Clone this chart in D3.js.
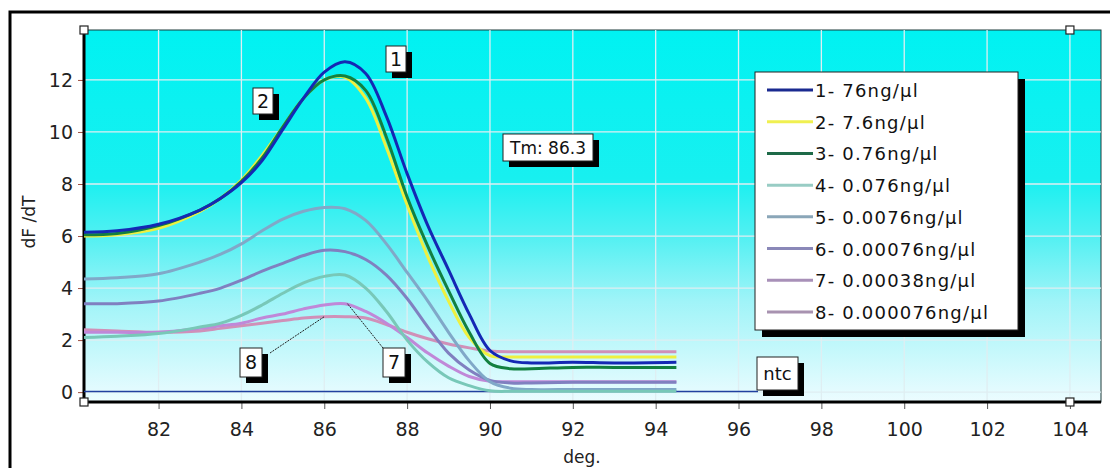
<!DOCTYPE html>
<html>
<head>
<meta charset="utf-8">
<script src="https://cdn.jsdelivr.net/npm/d3@7/dist/d3.min.js"></script>
<style>
  html, body { margin: 0; padding: 0; background: #fff; }
  svg { display: block; font-family: "DejaVu Sans", "Liberation Sans", Arial, sans-serif; }
</style>
</head>
<body>
<div id="chart"></div>
<script>
/* Datos: temperatura (deg.) y dF/dT de cada muestra */
const temps = [80.2, 81, 82, 83, 83.5, 84, 84.5, 85, 85.5, 86, 86.5, 87, 87.5, 88, 88.5, 89, 89.5, 90, 90.5, 91, 92, 93, 94.5];

const s1 = [6.15, 6.2, 6.45, 7.0, 7.45, 8.05, 8.9, 10.1, 11.3, 12.3, 12.7, 12.25, 10.6, 8.4, 6.4, 4.7, 3.0, 1.6, 1.2, 1.12, 1.15, 1.12, 1.15];
const s2 = [6.0, 6.05, 6.3, 6.95, 7.45, 8.15, 9.1, 10.2, 11.3, 12.0, 12.1, 11.3, 9.4, 7.2, 5.2, 3.5, 2.1, 1.4, 1.35, 1.35, 1.35, 1.35, 1.35];
const s3 = [6.05, 6.1, 6.4, 7.0, 7.45, 8.1, 9.0, 10.2, 11.3, 12.0, 12.15, 11.6, 9.8, 7.5, 5.6, 3.9, 2.3, 1.1, 0.9, 0.9, 0.95, 0.95, 0.95];
const s4 = [2.1, 2.15, 2.25, 2.5, 2.65, 2.95, 3.35, 3.8, 4.2, 4.45, 4.5, 4.0, 3.1, 2.0, 1.15, 0.55, 0.25, 0.05, 0.03, 0.03, 0.03, 0.03, 0.03];
const s5 = [4.35, 4.4, 4.55, 5.0, 5.3, 5.7, 6.2, 6.65, 6.95, 7.1, 7.05, 6.6, 5.7, 4.6, 3.5, 2.3, 1.2, 0.4, 0.15, 0.1, 0.1, 0.1, 0.1];
const s6 = [3.4, 3.4, 3.5, 3.8, 4.0, 4.3, 4.65, 4.95, 5.25, 5.45, 5.4, 5.1, 4.5, 3.6, 2.5, 1.5, 0.85, 0.45, 0.35, 0.35, 0.38, 0.38, 0.38];
const s7 = [2.3, 2.3, 2.3, 2.45, 2.55, 2.65, 2.85, 3.0, 3.2, 3.35, 3.4, 3.1, 2.65, 2.1, 1.5, 1.0, 0.6, 0.42, 0.4, 0.4, 0.4, 0.4, 0.4];
const s8 = [2.4, 2.35, 2.3, 2.35, 2.45, 2.55, 2.65, 2.75, 2.85, 2.9, 2.9, 2.85, 2.6, 2.3, 2.05, 1.85, 1.7, 1.58, 1.55, 1.55, 1.55, 1.55, 1.55];
const ntc = [0.02, 0.02, 0.02, 0.02, 0.02, 0.02, 0.02, 0.02, 0.02, 0.02, 0.02, 0.02, 0.02, 0.02, 0.02, 0.02, 0.02, 0.02, 0.02, 0.02, 0.02, 0.02, 0.02];

const legendLabels = ["1- 76ng/µl", "2- 7.6ng/µl", "3- 0.76ng/µl", "4- 0.076ng/µl", "5- 0.0076ng/µl", "6- 0.00076ng/µl", "7- 0.00038ng/µl", "8- 0.000076ng/µl"];
const xTicks = [82, 84, 86, 88, 90, 92, 94, 96, 98, 100, 102, 104];
const yTicks = [0, 2, 4, 6, 8, 10, 12];

const colors = ["#1428b4", "#eef040", "#128040", "#78c8b8", "#80a8c8", "#8080c0", "#c088d8", "#d090b8"];
const legendColors = ["#1a2a90", "#f0f050", "#1e6a48", "#98ccc4", "#8aa6b8", "#8a88b8", "#a890b8", "#a892b0"];
const series = [s1, s2, s3, s4, s5, s6, s7, s8];

/* Layout */
const W = 1110, H = 468;
const M = { top: 30, right: 9, bottom: 66, left: 84 };

const svg = d3.select("#chart").append("svg").attr("width", W).attr("height", H);

const x = d3.scaleLinear().domain([80.2, 104.75]).range([M.left, W - M.right]);
const y = d3.scaleLinear().domain([-0.38, 13.92]).range([H - M.bottom, M.top]);

// marco exterior
svg.append("rect").attr("x", 10).attr("y", 12).attr("width", W + 20).attr("height", H + 20)
	.attr("fill", "none").attr("stroke", "#000").attr("stroke-width", 3);

// fondo degradado
const defs = svg.append("defs");
const grad = defs.append("linearGradient").attr("id", "bg").attr("x1", 0).attr("y1", 0).attr("x2", 0).attr("y2", 1);
grad.append("stop").attr("offset", "0%").attr("stop-color", "#00f2f2");
grad.append("stop").attr("offset", "40%").attr("stop-color", "#18f0f0");
grad.append("stop").attr("offset", "55%").attr("stop-color", "#50f0f2");
grad.append("stop").attr("offset", "73%").attr("stop-color", "#a0f4f8");
grad.append("stop").attr("offset", "100%").attr("stop-color", "#ecfcff");
defs.append("clipPath").attr("id", "clip").append("rect")
	.attr("x", M.left).attr("y", M.top).attr("width", W - M.right - M.left).attr("height", H - M.bottom - M.top);

svg.append("rect").attr("x", M.left).attr("y", M.top)
	.attr("width", W - M.right - M.left).attr("height", H - M.bottom - M.top)
	.attr("fill", "url(#bg)").attr("stroke", "#1c3a3a").attr("stroke-width", 1);

// rejilla
const grid = svg.append("g").attr("stroke", "#dfeef2").attr("stroke-width", 1.3);
grid.selectAll(".gx").data(xTicks).join("line")
	.attr("x1", d => x(d)).attr("x2", d => x(d)).attr("y1", M.top).attr("y2", H - M.bottom);
grid.selectAll(".gy").data(yTicks).join("line")
	.attr("x1", M.left).attr("x2", W - M.right).attr("y1", d => y(d)).attr("y2", d => y(d));

// ejes
const xAxis = svg.append("g").attr("transform", `translate(0,${H - M.bottom})`)
	.call(d3.axisBottom(x).tickValues(xTicks).tickSize(7).tickSizeOuter(0).tickPadding(14));
xAxis.select(".domain").remove();
xAxis.selectAll("line").attr("stroke", "#555");
xAxis.selectAll("text").attr("font-size", 19).attr("fill", "#222").attr("font-family", "DejaVu Sans, sans-serif");

const yAxis = svg.append("g").attr("transform", `translate(${M.left},0)`)
	.call(d3.axisLeft(y).tickValues(yTicks).tickSize(6).tickSizeOuter(0).tickPadding(5));
yAxis.select(".domain").remove();
yAxis.selectAll("line").attr("stroke", "#a05040");
yAxis.selectAll("text").attr("font-size", 19).attr("fill", "#222").attr("font-family", "DejaVu Sans, sans-serif");

// líneas de eje gruesas
svg.append("line").attr("x1", M.left).attr("x2", M.left).attr("y1", M.top).attr("y2", H - M.bottom)
	.attr("stroke", "#000").attr("stroke-width", 3);
svg.append("line").attr("x1", M.left).attr("x2", W - M.right).attr("y1", H - M.bottom).attr("y2", H - M.bottom)
	.attr("stroke", "#000").attr("stroke-width", 3);

// títulos de eje
svg.append("text").attr("transform", `translate(35,222) rotate(-90)`).attr("text-anchor", "middle")
	.attr("font-size", 17).attr("fill", "#222").text("dF /dT");
svg.append("text").attr("x", 582).attr("y", 463).attr("text-anchor", "middle")
	.attr("font-size", 17).attr("fill", "#222").text("deg.");

// curvas
const plot = svg.append("g").attr("clip-path", "url(#clip)");
const line = d3.line().x((d, i) => x(temps[i])).y(d => y(d)).curve(d3.curveCatmullRom.alpha(0.5));

// ntc
plot.append("path").attr("d", line(ntc)).attr("fill", "none").attr("stroke", "#2040a0").attr("stroke-width", 1.5);

const order = [7, 6, 5, 4, 3, 1, 2, 0];
order.forEach(i => {
	plot.append("path").attr("d", line(series[i])).attr("fill", "none")
		.attr("stroke", colors[i]).attr("stroke-width", 3).attr("stroke-linejoin", "round");
});

// etiquetas tipo caja con sombra
function tag(bx, by, bw, bh, txt, fs) {
	const g = svg.append("g");
	g.append("rect").attr("x", bx + 6).attr("y", by + 6).attr("width", bw).attr("height", bh).attr("fill", "#000");
	g.append("rect").attr("x", bx).attr("y", by).attr("width", bw).attr("height", bh)
		.attr("fill", "#fff").attr("stroke", "#222").attr("stroke-width", 1);
	g.append("text").attr("x", bx + bw / 2).attr("y", by + bh / 2 + fs * 0.36).attr("text-anchor", "middle")
		.attr("font-size", fs).attr("fill", "#111").text(txt);
	return g;
}

// guías de 8 y 7
svg.append("line").attr("x1", 270).attr("y1", 353).attr("x2", x(86.0)).attr("y2", y(2.9))
	.attr("stroke", "#222").attr("stroke-width", 1).attr("stroke-dasharray", "2,1");
svg.append("line").attr("x1", 383).attr("y1", 348).attr("x2", x(86.55)).attr("y2", y(3.42))
	.attr("stroke", "#222").attr("stroke-width", 1).attr("stroke-dasharray", "2,1");
// guía ntc
svg.append("line").attr("x1", x(94.5)).attr("y1", y(0.02)).attr("x2", 758).attr("y2", y(0.02))
	.attr("stroke", "#2040a0").attr("stroke-width", 1.5);

tag(386, 46, 20, 26, "1", 19);
tag(253, 88, 20, 26, "2", 19);
tag(503, 134, 90, 27, "Tm: 86.3", 17);
tag(240, 348, 22, 29, "8", 19);
tag(383, 348, 22, 29, "7", 19);
tag(757, 357, 41, 33, "ntc", 18);

// leyenda
const lg = svg.append("g");
const LX = 755, LY = 72, LW = 263, LH = 258;
lg.append("rect").attr("x", LX + 7).attr("y", LY + 7).attr("width", LW).attr("height", LH).attr("fill", "#000");
lg.append("rect").attr("x", LX).attr("y", LY).attr("width", LW).attr("height", LH)
	.attr("fill", "#fff").attr("stroke", "#222").attr("stroke-width", 1);
const ly = d3.scalePoint().domain(legendLabels).range([LY + 18, LY + 240]);
legendLabels.forEach((lab, i) => {
	lg.append("line").attr("x1", LX + 12).attr("x2", LX + 58).attr("y1", ly(lab)).attr("y2", ly(lab))
		.attr("stroke", legendColors[i]).attr("stroke-width", 3);
	lg.append("text").attr("x", LX + 60).attr("y", ly(lab) + 7).attr("font-size", 18)
		.attr("letter-spacing", 1.2).attr("fill", "#111").text(lab);
});

// manijas en las esquinas
const handles = [[80.2, 13.92], [104, 13.92], [80.2, -0.38], [104, -0.38]];
svg.selectAll(".handle").data(handles).join("rect")
	.attr("x", d => x(d[0]) - 4).attr("y", d => y(d[1]) - 4).attr("width", 8).attr("height", 8)
	.attr("fill", "#fff").attr("stroke", "#222").attr("stroke-width", 1.2);
</script>
</body>
</html>
